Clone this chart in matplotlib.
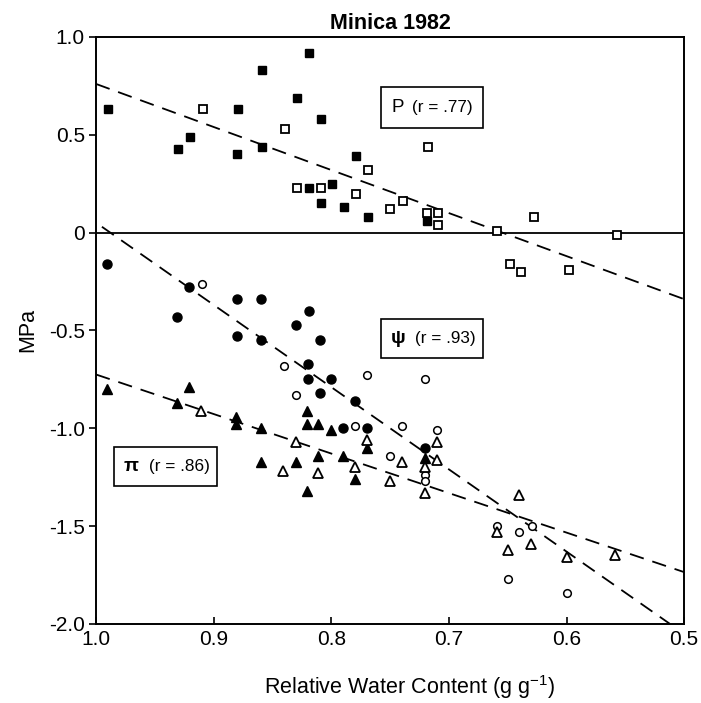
import matplotlib
matplotlib.use("Agg")
import matplotlib.pyplot as plt
from matplotlib.patches import Rectangle

plt.rcParams['font.family'] = ['Liberation Sans', 'DejaVu Sans']
plt.rcParams['mathtext.default'] = 'regular'

# ---- data ----
p_filled_x = [0.990, 0.930, 0.920, 0.879, 0.880, 0.859, 0.859, 0.829, 0.819, 0.809,
              0.819, 0.809, 0.799, 0.789, 0.779, 0.769, 0.719]
p_filled_y = [0.63, 0.43, 0.49, 0.63, 0.40, 0.83, 0.44, 0.69, 0.92, 0.58,
              0.23, 0.15, 0.25, 0.13, 0.39, 0.08, 0.06]
p_open_x = [0.909, 0.839, 0.829, 0.809, 0.769, 0.779, 0.750, 0.739, 0.718, 0.719,
            0.709, 0.709, 0.659, 0.628, 0.557, 0.648, 0.639, 0.598]
p_open_y = [0.63, 0.53, 0.23, 0.23, 0.32, 0.20, 0.12, 0.16, 0.44, 0.10,
            0.10, 0.04, 0.01, 0.08, -0.01, -0.16, -0.20, -0.19]

psi_filled_x = [0.991, 0.931, 0.921, 0.880, 0.880, 0.860, 0.860, 0.830, 0.819, 0.820,
                0.820, 0.810, 0.810, 0.800, 0.780, 0.790, 0.770, 0.720]
psi_filled_y = [-0.16, -0.43, -0.28, -0.34, -0.53, -0.34, -0.55, -0.47, -0.40, -0.67,
                -0.75, -0.55, -0.82, -0.75, -0.86, -1.00, -1.00, -1.10]
psi_open_x = [0.910, 0.840, 0.830, 0.780, 0.770, 0.750, 0.720, 0.740, 0.710, 0.720,
              0.720, 0.659, 0.640, 0.629, 0.650, 0.600]
psi_open_y = [-0.26, -0.68, -0.83, -0.99, -0.73, -1.14, -0.75, -0.99, -1.01, -1.24,
              -1.27, -1.50, -1.53, -1.50, -1.77, -1.84]

pi_filled_x = [0.991, 0.921, 0.931, 0.881, 0.881, 0.860, 0.860, 0.830, 0.821, 0.821,
               0.811, 0.811, 0.800, 0.821, 0.790, 0.780, 0.770, 0.720]
pi_filled_y = [-0.80, -0.79, -0.87, -0.94, -0.98, -1.00, -1.17, -1.17, -0.91, -0.98,
               -0.98, -1.14, -1.01, -1.32, -1.14, -1.26, -1.10, -1.15]
pi_open_x = [0.911, 0.830, 0.841, 0.811, 0.780, 0.770, 0.750, 0.740, 0.710, 0.710,
             0.720, 0.720, 0.640, 0.659, 0.650, 0.630, 0.600, 0.559]
pi_open_y = [-0.91, -1.07, -1.22, -1.23, -1.20, -1.06, -1.27, -1.17, -1.07, -1.16,
             -1.20, -1.33, -1.34, -1.53, -1.62, -1.59, -1.66, -1.65]

# regression lines (end points)
p_line_x = [1.0, 0.5]
p_line_y = [0.76, -0.34]
psi_line_x = [0.995, 0.512]
psi_line_y = [0.03, -2.0]
pi_line_x = [1.0, 0.5]
pi_line_y = [-0.725, -1.735]

x_ticks = [1.0, 0.9, 0.8, 0.7, 0.6, 0.5]
x_ticklabels = ["1.0", "0.9", "0.8", "0.7", "0.6", "0.5"]
y_ticks = [1.0, 0.5, 0.0, -0.5, -1.0, -1.5, -2.0]
y_ticklabels = ["1.0", "0.5", "0", "-0.5", "-1.0", "-1.5", "-2.0"]

labels = [("P", "(r = .77)"), ("ψ", "(r = .93)"), ("π", "(r = .86)")]

# ---- figure ----
fig = plt.figure(figsize=(7.01, 7.03), dpi=100)
ax = fig.add_axes([0.137, 0.1124, 0.839, 0.835])

ax.set_xlim(1.0, 0.5)
ax.set_ylim(-2.0, 1.0)

ax.axhline(0, color='black', lw=1.3, zorder=1)

dash = (0, (8, 5))
ax.plot(p_line_x, p_line_y, color='black', lw=1.3, linestyle=dash, zorder=2)
ax.plot(psi_line_x, psi_line_y, color='black', lw=1.3, linestyle=dash, zorder=2)
ax.plot(pi_line_x, pi_line_y, color='black', lw=1.3, linestyle=dash, zorder=2)

ax.plot(p_filled_x, p_filled_y, 's', ms=6, color='black', mec='black', ls='none', zorder=3)
ax.plot(p_open_x, p_open_y, 's', ms=5.5, mfc='white', mec='black', mew=1.3, ls='none', zorder=3)
ax.plot(psi_filled_x, psi_filled_y, 'o', ms=6.5, color='black', ls='none', zorder=3)
ax.plot(psi_open_x, psi_open_y, 'o', ms=5.5, mfc='white', mec='black', mew=1.1, ls='none', zorder=3)
ax.plot(pi_filled_x, pi_filled_y, '^', ms=7.5, color='black', ls='none', zorder=3)
ax.plot(pi_open_x, pi_open_y, '^', ms=6.5, mfc='white', mec='black', mew=1.3, ls='none', zorder=3)

# label boxes (x0, x1, y0, y1 in data coords)
boxes = [(0.758, 0.671, 0.535, 0.743), (0.758, 0.671, -0.642, -0.441), (0.985, 0.897, -1.294, -1.094)]
sym_off = [0.0094, 0.0085, 0.0085]
txt_off = [0.0265, 0.029, 0.030]
for (sym, rtxt), (x0, x1, y0, y1), so, to in zip(labels, boxes, sym_off, txt_off):
    ax.add_patch(Rectangle((x1, y0), x0 - x1, y1 - y0, fill=False, ec='black', lw=1.2, zorder=4))
    ym = (y0 + y1) / 2
    ax.text(x0 - so, ym, sym, fontsize=13.5 if sym == "P" else 14, ha='left', va='center',
            fontweight='bold' if sym != "P" else 'normal', zorder=5)
    ax.text(x0 - to, ym, rtxt, fontsize=12.3, ha='left', va='center', zorder=5)

ax.set_xticks(x_ticks)
ax.set_xticklabels(x_ticklabels)
ax.set_yticks(y_ticks)
ax.set_yticklabels(y_ticklabels)
ax.tick_params(axis='x', direction='in', length=5, width=1.2, labelsize=15, pad=4)
ax.tick_params(axis='y', direction='out', length=5, width=1.2, labelsize=15, pad=3)
for s in ax.spines.values():
    s.set_linewidth(1.4)

ax.set_title("Minica 1982", fontsize=15.5, fontweight='bold', pad=6)
ax.set_xlabel("Relative Water Content (g g$^{-1}$)", fontsize=15.5, labelpad=18)
ax.xaxis.label.set_x(0.533)
ax.set_ylabel("MPa", fontsize=15.5, labelpad=8)

fig.savefig("out.png", dpi=100)
